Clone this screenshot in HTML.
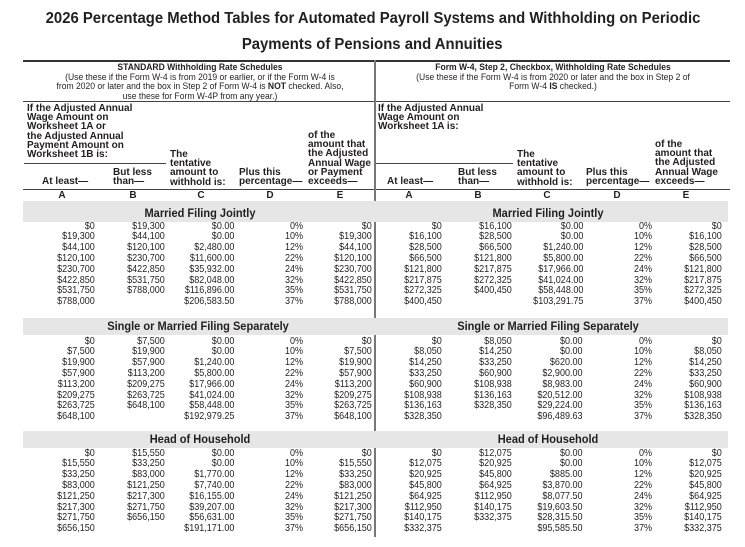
<!DOCTYPE html>
<html><head><meta charset="utf-8"><style>
body{margin:0;width:745px;height:547px;background:#fff;position:relative;overflow:hidden;font-family:"Liberation Sans",Arial,sans-serif;color:#231f20}
.a{position:absolute;white-space:nowrap}
.t{position:absolute;left:0;width:745px;text-align:center;font-weight:bold;font-size:16px}
.t span{display:inline-block;transform:scaleX(.93)}
.h{position:absolute;height:1px;background:#444}
.band{position:absolute;left:23px;width:705px;background:#e6e6e7;z-index:2}
.sh{position:absolute;font-weight:bold;font-size:12px;z-index:3;transform:translateX(-50%) scaleX(.92);white-space:nowrap}
.c{position:absolute;text-align:right;font-size:10.5px;line-height:10.8px;white-space:nowrap;transform:scaleX(.86);transform-origin:right top}
.hd{position:absolute;font-weight:bold;font-size:10px;line-height:9.2px;white-space:nowrap;transform:scaleX(1);transform-origin:left top}
.sub{position:absolute;text-align:center;font-size:9.3px;line-height:9.6px;white-space:nowrap;transform:translateX(-50%) scaleX(.92)}
.L{position:absolute;font-weight:bold;font-size:10px;transform:translateX(-50%)}
</style></head><body>
<div class="t" style="top:10px"><span>2026 Percentage Method Tables for Automated Payroll Systems and Withholding on Periodic</span></div>
<div class="t" style="top:36px"><span>Payments of Pensions and Annuities</span></div>
<div class="h" style="top:60px;left:23px;width:707px;height:1.5px;background:#333"></div>
<div class="h" style="top:101px;left:23px;width:707px"></div>
<div class="h" style="top:189px;left:23px;width:707px"></div>
<div class="a" style="left:374px;top:60px;width:2px;height:477px;background:#777"></div>

<div class="sub" style="left:200px;top:63px"><b>STANDARD Withholding Rate Schedules</b><br>(Use these if the Form W-4 is from 2019 or earlier, or if the Form W-4 is<br>from 2020 or later and the box in Step 2 of Form W-4 is <b>NOT</b> checked. Also,<br>use these for Form W-4P from any year.)</div>
<div class="sub" style="left:553px;top:63px"><b>Form W-4, Step 2, Checkbox, Withholding Rate Schedules</b><br>(Use these if the Form W-4 is from 2020 or later and the box in Step 2 of<br>Form W-4 <b>IS</b> checked.)</div>

<div class="hd" style="left:27px;top:104px">If the Adjusted Annual<br>Wage Amount on<br>Worksheet 1A or<br>the Adjusted Annual<br>Payment Amount on<br>Worksheet 1B is:</div>
<div class="h" style="top:163px;left:24px;width:142px"></div>
<div class="hd" style="left:170px;top:150px">The<br>tentative<br>amount to<br>withhold is:</div>
<div class="hd" style="left:113px;top:168px">But less<br>than—</div>
<div class="hd" style="left:42px;top:177px">At least—</div>
<div class="hd" style="left:239px;top:168px">Plus this<br>percentage—</div>
<div class="hd" style="left:308px;top:131px">of the<br>amount that<br>the Adjusted<br>Annual Wage<br>or Payment<br>exceeds—</div>

<div class="hd" style="left:378px;top:104px">If the Adjusted Annual<br>Wage Amount on<br>Worksheet 1A is:</div>
<div class="h" style="top:163px;left:376px;width:137px"></div>
<div class="hd" style="left:517px;top:150px">The<br>tentative<br>amount to<br>withhold is:</div>
<div class="hd" style="left:458px;top:168px">But less<br>than—</div>
<div class="hd" style="left:387px;top:177px">At least—</div>
<div class="hd" style="left:586px;top:168px">Plus this<br>percentage—</div>
<div class="hd" style="left:655px;top:140px">of the<br>amount that<br>the Adjusted<br>Annual Wage<br>exceeds—</div>

<div class="L" style="left:62px;top:190px">A</div><div class="L" style="left:133px;top:190px">B</div><div class="L" style="left:201px;top:190px">C</div><div class="L" style="left:270px;top:190px">D</div><div class="L" style="left:340px;top:190px">E</div>
<div class="L" style="left:409px;top:190px">A</div><div class="L" style="left:478px;top:190px">B</div><div class="L" style="left:547px;top:190px">C</div><div class="L" style="left:617px;top:190px">D</div><div class="L" style="left:686px;top:190px">E</div>

<div class="band" style="top:201px;height:21px"></div>
<div class="sh" style="left:200px;top:206px">Married Filing Jointly</div>
<div class="sh" style="left:548px;top:206px">Married Filing Jointly</div>
<div class="band" style="top:318px;height:17px"></div>
<div class="sh" style="left:198px;top:319px">Single or Married Filing Separately</div>
<div class="sh" style="left:548px;top:319px">Single or Married Filing Separately</div>
<div class="band" style="top:431px;height:17px"></div>
<div class="sh" style="left:200px;top:432px">Head of Household</div>
<div class="sh" style="left:548px;top:432px">Head of Household</div>

<!-- Section 1 -->
<div class="c" style="right:650px;top:220.6px">$0<br>$19,300<br>$44,100<br>$120,100<br>$230,700<br>$422,850<br>$531,750<br>$788,000</div>
<div class="c" style="right:580px;top:220.6px">$19,300<br>$44,100<br>$120,100<br>$230,700<br>$422,850<br>$531,750<br>$788,000</div>
<div class="c" style="right:511px;top:220.6px">$0.00<br>$0.00<br>$2,480.00<br>$11,600.00<br>$35,932.00<br>$82,048.00<br>$116,896.00<br>$206,583.50</div>
<div class="c" style="right:442px;top:220.6px">0%<br>10%<br>12%<br>22%<br>24%<br>32%<br>35%<br>37%</div>
<div class="c" style="right:373px;top:220.6px">$0<br>$19,300<br>$44,100<br>$120,100<br>$230,700<br>$422,850<br>$531,750<br>$788,000</div>
<div class="c" style="right:303px;top:220.6px">$0<br>$16,100<br>$28,500<br>$66,500<br>$121,800<br>$217,875<br>$272,325<br>$400,450</div>
<div class="c" style="right:233px;top:220.6px">$16,100<br>$28,500<br>$66,500<br>$121,800<br>$217,875<br>$272,325<br>$400,450</div>
<div class="c" style="right:162px;top:220.6px">$0.00<br>$0.00<br>$1,240.00<br>$5,800.00<br>$17,966.00<br>$41,024.00<br>$58,448.00<br>$103,291.75</div>
<div class="c" style="right:93px;top:220.6px">0%<br>10%<br>12%<br>22%<br>24%<br>32%<br>35%<br>37%</div>
<div class="c" style="right:23px;top:220.6px">$0<br>$16,100<br>$28,500<br>$66,500<br>$121,800<br>$217,875<br>$272,325<br>$400,450</div>

<!-- Section 2 -->
<div class="c" style="right:650px;top:335.6px">$0<br>$7,500<br>$19,900<br>$57,900<br>$113,200<br>$209,275<br>$263,725<br>$648,100</div>
<div class="c" style="right:580px;top:335.6px">$7,500<br>$19,900<br>$57,900<br>$113,200<br>$209,275<br>$263,725<br>$648,100</div>
<div class="c" style="right:511px;top:335.6px">$0.00<br>$0.00<br>$1,240.00<br>$5,800.00<br>$17,966.00<br>$41,024.00<br>$58,448.00<br>$192,979.25</div>
<div class="c" style="right:442px;top:335.6px">0%<br>10%<br>12%<br>22%<br>24%<br>32%<br>35%<br>37%</div>
<div class="c" style="right:373px;top:335.6px">$0<br>$7,500<br>$19,900<br>$57,900<br>$113,200<br>$209,275<br>$263,725<br>$648,100</div>
<div class="c" style="right:303px;top:335.6px">$0<br>$8,050<br>$14,250<br>$33,250<br>$60,900<br>$108,938<br>$136,163<br>$328,350</div>
<div class="c" style="right:233px;top:335.6px">$8,050<br>$14,250<br>$33,250<br>$60,900<br>$108,938<br>$136,163<br>$328,350</div>
<div class="c" style="right:162px;top:335.6px">$0.00<br>$0.00<br>$620.00<br>$2,900.00<br>$8,983.00<br>$20,512.00<br>$29,224.00<br>$96,489.63</div>
<div class="c" style="right:93px;top:335.6px">0%<br>10%<br>12%<br>22%<br>24%<br>32%<br>35%<br>37%</div>
<div class="c" style="right:23px;top:335.6px">$0<br>$8,050<br>$14,250<br>$33,250<br>$60,900<br>$108,938<br>$136,163<br>$328,350</div>

<!-- Section 3 -->
<div class="c" style="right:650px;top:447.6px">$0<br>$15,550<br>$33,250<br>$83,000<br>$121,250<br>$217,300<br>$271,750<br>$656,150</div>
<div class="c" style="right:580px;top:447.6px">$15,550<br>$33,250<br>$83,000<br>$121,250<br>$217,300<br>$271,750<br>$656,150</div>
<div class="c" style="right:511px;top:447.6px">$0.00<br>$0.00<br>$1,770.00<br>$7,740.00<br>$16,155.00<br>$39,207.00<br>$56,631.00<br>$191,171.00</div>
<div class="c" style="right:442px;top:447.6px">0%<br>10%<br>12%<br>22%<br>24%<br>32%<br>35%<br>37%</div>
<div class="c" style="right:373px;top:447.6px">$0<br>$15,550<br>$33,250<br>$83,000<br>$121,250<br>$217,300<br>$271,750<br>$656,150</div>
<div class="c" style="right:303px;top:447.6px">$0<br>$12,075<br>$20,925<br>$45,800<br>$64,925<br>$112,950<br>$140,175<br>$332,375</div>
<div class="c" style="right:233px;top:447.6px">$12,075<br>$20,925<br>$45,800<br>$64,925<br>$112,950<br>$140,175<br>$332,375</div>
<div class="c" style="right:162px;top:447.6px">$0.00<br>$0.00<br>$885.00<br>$3,870.00<br>$8,077.50<br>$19,603.50<br>$28,315.50<br>$95,585.50</div>
<div class="c" style="right:93px;top:447.6px">0%<br>10%<br>12%<br>22%<br>24%<br>32%<br>35%<br>37%</div>
<div class="c" style="right:23px;top:447.6px">$0<br>$12,075<br>$20,925<br>$45,800<br>$64,925<br>$112,950<br>$140,175<br>$332,375</div>
</body></html>
